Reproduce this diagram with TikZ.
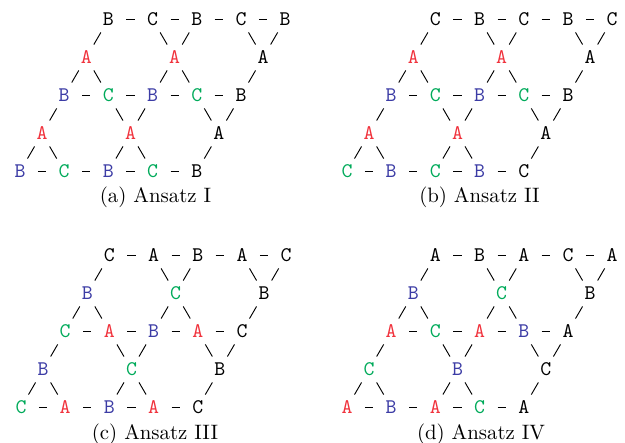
\documentclass[tikz,border=0pt]{standalone}
\usepackage{fontspec}
\definecolor{cr}{RGB}{240,50,60}
\definecolor{cb}{RGB}{60,60,165}
\definecolor{cg}{RGB}{0,170,90}
\definecolor{ck}{RGB}{0,0,0}
\tikzset{
  lt/.style={inner sep=0pt,font=\ttfamily},
  hbond/.style={line width=0.45pt,shorten <=8.6pt,shorten >=8.6pt},
  dbond/.style={line width=0.45pt,shorten <=7.2pt,shorten >=7.2pt},
  captext/.style={inner sep=0pt,anchor=base,font=\rmfamily}
}
\newcommand\kagpanel[8]{%
  \foreach \l/\c [count=\i] in {#4} {\node[lt,text=\c] (#1-0-\i) at ({#2+11.05*(4+4*\i)},{#3-152}) {\l};}
  \foreach \l/\c [count=\i] in {#5} {\node[lt,text=\c] (#1-2-\i) at ({#2+11.05*(8*\i-2)},{#3-114}) {\l};}
  \foreach \l/\c [count=\i] in {#6} {\node[lt,text=\c] (#1-4-\i) at ({#2+11.05*(4*\i)},{#3-76}) {\l};}
  \foreach \l/\c [count=\i] in {#7} {\node[lt,text=\c] (#1-6-\i) at ({#2+11.05*(8*\i-6)},{#3-38}) {\l};}
  \foreach \l/\c [count=\i] in {#8} {\node[lt,text=\c] (#1-8-\i) at ({#2+11.05*(4*\i-4)},{#3}) {\l};}
  \foreach \r in {0,4,8} {
    \foreach \i/\j in {1/2,2/3,3/4,4/5} {\draw[hbond] (#1-\r-\i.center) -- (#1-\r-\j.center);}
  }
  \foreach \a/\b in {2-1/0-1,2-1/4-1,2-1/4-2,
                     2-2/0-2,2-2/0-3,2-2/4-3,2-2/4-4,
                     2-3/0-4,2-3/0-5,2-3/4-5,
                     6-1/4-1,6-1/8-1,6-1/8-2,
                     6-2/4-2,6-2/4-3,6-2/8-3,6-2/8-4,
                     6-3/4-4,6-3/4-5,6-3/8-5}
    {\draw[dbond] (#1-\a.center) -- (#1-\b.center);}
}
\begin{document}
\begin{tikzpicture}[x=0.48pt,y=-0.48pt]
\useasboundingbox (0,0) rectangle (625,443);
\kagpanel{a}{20}{171.5}
  {B/ck,C/ck,B/ck,C/ck,B/ck}
  {A/cr,A/cr,A/ck}
  {B/cb,C/cg,B/cb,C/cg,B/ck}
  {A/cr,A/cr,A/ck}
  {B/cb,C/cg,B/cb,C/cg,B/ck}
\kagpanel{b}{347}{171.5}
  {C/ck,B/ck,C/ck,B/ck,C/ck}
  {A/cr,A/cr,A/ck}
  {B/cb,C/cg,B/cb,C/cg,B/ck}
  {A/cr,A/cr,A/ck}
  {C/cg,B/cb,C/cg,B/cb,C/ck}
\kagpanel{c}{21}{407.5}
  {C/ck,A/ck,B/ck,A/ck,C/ck}
  {B/cb,C/cg,B/ck}
  {C/cg,A/cr,B/cb,A/cr,C/ck}
  {B/cb,C/cg,B/ck}
  {C/cg,A/cr,B/cb,A/cr,C/ck}
\kagpanel{d}{347}{407.5}
  {A/ck,B/ck,A/ck,C/ck,A/ck}
  {B/cb,C/cg,B/ck}
  {A/cr,C/cg,A/cr,B/cb,A/ck}
  {C/cg,B/cb,C/ck}
  {A/cr,B/cb,A/cr,C/cg,A/ck}
\node[captext] (capa) at (155.5,202.3) {(a) Ansatz I};
\node[captext] (capb) at (479.5,202.3) {(b) Ansatz II};
\node[captext] (capc) at (155,439.3) {(c) Ansatz III};
\node[captext] (capd) at (481,439.3) {(d) Ansatz IV};
\end{tikzpicture}
\end{document}
